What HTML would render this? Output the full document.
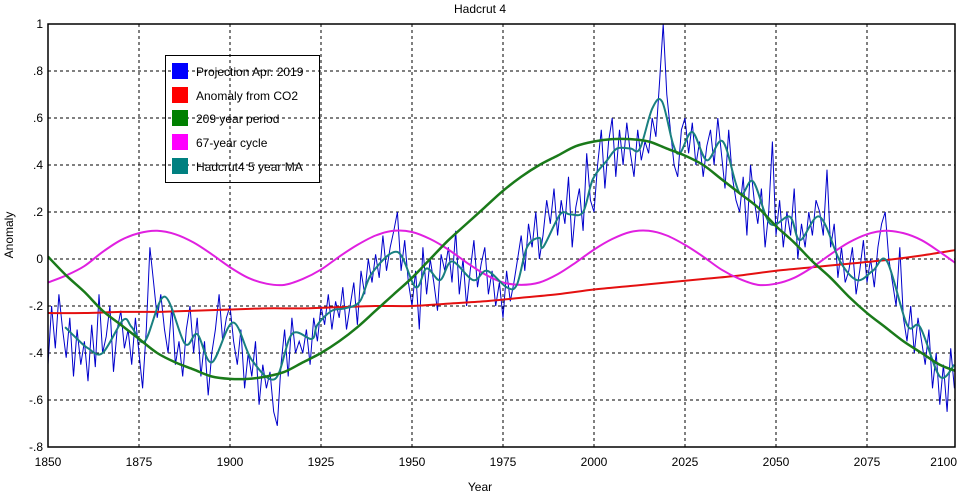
<!DOCTYPE html>
<html><head><meta charset="utf-8"><style>
body{margin:0;background:#fff;}
svg text{font-family:"Liberation Sans",Arial,sans-serif;font-size:12px;fill:#000;}
</style></head><body>
<svg id="chart" width="959" height="495" viewBox="0 0 959 495" xmlns="http://www.w3.org/2000/svg">
<rect width="959" height="495" fill="#fff"/>
<text x="480" y="13" text-anchor="middle">Hadcrut 4</text>
<text transform="translate(13,235) rotate(-90)" text-anchor="middle">Anomaly</text>
<text x="480" y="491" text-anchor="middle">Year</text>
<g id="grid"></g>
<g id="series"></g>
<rect x="48" y="24" width="907" height="423" fill="none" stroke="#000" stroke-width="1.5"/>
<g id="ticks"></g>
<g>
<rect x="165.5" y="55.5" width="154" height="127" fill="none" stroke="#000" stroke-width="1"/>
<g><rect x="172" y="63" width="16" height="16" fill="#0000ff"/><text x="196" y="76">Projection Apr. 2019</text></g>
<g><rect x="172" y="87" width="16" height="16" fill="#ff0000"/><text x="196" y="100">Anomaly from CO2</text></g>
<g><rect x="172" y="110" width="16" height="16" fill="#008000"/><text x="196" y="123">209 year period</text></g>
<g><rect x="172" y="134" width="16" height="16" fill="#ff00ff"/><text x="196" y="147">67-year cycle</text></g>
<g><rect x="172" y="158" width="16" height="16" fill="#008080"/><text x="196" y="171">Hadcrut4 5 year MA</text></g>
</g>
</svg>
<script>
const xTicks=[1850,1875,1900,1925,1950,1975,2000,2025,2050,2075,2100];
const yTicks=[1,0.8,0.6,0.4,0.2,0,-0.2,-0.4,-0.6,-0.8];
const yTickLabels=["1",".8",".6",".4",".2","0","-.2","-.4","-.6","-.8"];
const blueStart=1850;
const blueValues=[
-0.45,-0.20,-0.38,-0.15,-0.30,-0.42,-0.25,-0.50,-0.30,-0.45,
-0.35,-0.52,-0.28,-0.46,-0.15,-0.40,-0.33,-0.20,-0.48,-0.30,
-0.22,-0.38,-0.30,-0.45,-0.25,-0.40,-0.55,-0.30,0.05,-0.10,
-0.25,-0.15,-0.30,-0.40,-0.20,-0.45,-0.35,-0.50,-0.30,-0.20,
-0.40,-0.25,-0.50,-0.35,-0.58,-0.40,-0.30,-0.15,-0.35,-0.25,
-0.20,-0.35,-0.45,-0.30,-0.55,-0.40,-0.50,-0.35,-0.62,-0.45,
-0.55,-0.48,-0.65,-0.71,-0.45,-0.30,-0.50,-0.25,-0.40,-0.35,
-0.40,-0.30,-0.45,-0.25,-0.35,-0.20,-0.28,-0.15,-0.30,-0.18,
-0.25,-0.12,-0.30,-0.20,-0.10,-0.28,-0.05,-0.15,0.00,-0.10,
0.02,-0.08,0.10,-0.05,0.05,0.12,0.20,-0.05,0.08,-0.10,
-0.20,-0.05,-0.30,0.05,-0.15,0.00,-0.10,-0.22,0.02,-0.05,
0.05,-0.10,0.12,-0.15,0.00,-0.20,-0.05,0.08,-0.12,-0.02,
0.05,-0.15,-0.05,-0.20,-0.10,-0.25,-0.05,-0.18,-0.10,0.00,
0.10,-0.05,0.15,0.05,0.20,0.00,0.10,0.25,0.15,0.30,
0.10,0.25,0.15,0.35,0.05,0.22,0.30,0.12,0.45,0.25,
0.20,0.40,0.55,0.30,0.50,0.60,0.35,0.55,0.40,0.58,
0.45,0.35,0.55,0.42,0.50,0.45,0.60,0.52,0.75,1.00,
0.70,0.55,0.40,0.35,0.55,0.60,0.45,0.58,0.40,0.50,
0.35,0.48,0.55,0.40,0.60,0.45,0.30,0.55,0.35,0.25,
0.20,0.35,0.10,0.40,0.25,0.15,0.30,0.05,0.20,0.50,
0.10,0.25,0.05,0.20,0.10,0.30,0.00,0.15,0.05,0.20,
0.10,0.25,0.20,0.10,0.38,0.05,0.15,-0.08,0.05,-0.10,
-0.05,0.05,-0.15,-0.05,0.08,-0.10,0.00,-0.12,0.05,0.15,
0.20,0.00,-0.10,-0.20,0.05,-0.25,-0.35,-0.20,-0.40,-0.25,
-0.35,-0.45,-0.30,-0.55,-0.40,-0.62,-0.45,-0.65,-0.38,-0.55];
const maYears=[1854.7,1858,1861,1865,1870.6,1873,1876.6,1882,1887.6,1891,1895,1900.8,1906,1912.4,1917,1922.5,1924,1928,1931.6,1935.7,1939,1946,1951,1954,1957.7,1961,1966.8,1970.6,1976,1978.8,1981.6,1985,1986,1990.7,1993.4,1997,1999.7,2003.6,2006.3,2010,2012.6,2016,2018.7,2021.7,2023.6,2027,2031,2035.4,2040,2043.7,2048.4,2053.8,2056.6,2062,2067.6,2072.3,2076.6,2080.5,2086,2089.6,2095,2099];
const maValues=[-0.29,-0.34,-0.38,-0.40,-0.26,-0.29,-0.35,-0.16,-0.36,-0.32,-0.44,-0.27,-0.43,-0.51,-0.32,-0.34,-0.28,-0.22,-0.21,-0.18,-0.06,0.03,-0.12,-0.04,-0.09,-0.01,-0.09,-0.05,-0.12,-0.11,0.05,0.09,0.05,0.19,0.19,0.20,0.34,0.42,0.47,0.47,0.47,0.64,0.67,0.49,0.45,0.54,0.42,0.50,0.28,0.33,0.15,0.18,0.08,0.18,-0.01,-0.09,-0.05,-0.01,-0.28,-0.29,-0.50,-0.45];
const curveYears=[1850,1855,1860,1865,1870,1875,1880,1885,1890,1895,1900,1905,1910,1915,1920,1925,1930,1935,1940,1945,1950,1955,1960,1965,1970,1975,1980,1985,1990,1995,2000,2005,2010,2015,2020,2025,2030,2035,2040,2045,2050,2055,2060,2065,2070,2075,2080,2085,2090,2095,2100];
const period209=[0.01,-0.07,-0.14,-0.22,-0.28,-0.34,-0.40,-0.44,-0.47,-0.50,-0.51,-0.51,-0.50,-0.48,-0.44,-0.40,-0.35,-0.29,-0.22,-0.15,-0.08,0,0.08,0.15,0.22,0.29,0.35,0.40,0.44,0.48,0.50,0.51,0.51,0.50,0.47,0.44,0.40,0.34,0.28,0.22,0.14,0.07,-0.01,-0.08,-0.16,-0.23,-0.29,-0.35,-0.40,-0.45,-0.48];
const cycle67=[-0.10,-0.07,-0.03,0.03,0.08,0.11,0.12,0.105,0.07,0.02,-0.035,-0.08,-0.105,-0.11,-0.085,-0.045,0.01,0.06,0.10,0.12,0.115,0.085,0.04,-0.015,-0.065,-0.10,-0.11,-0.10,-0.065,-0.015,0.04,0.085,0.115,0.12,0.10,0.06,0.01,-0.045,-0.085,-0.11,-0.105,-0.08,-0.035,0.02,0.07,0.105,0.12,0.11,0.08,0.03,-0.025];
const co2Years=[1850,1860,1870,1880,1890,1900,1910,1920,1930,1940,1950,1960,1970,1980,1990,2000,2010,2020,2030,2040,2050,2060,2070,2080,2090,2100];
const co2Values=[-0.23,-0.23,-0.225,-0.225,-0.22,-0.215,-0.21,-0.21,-0.205,-0.20,-0.20,-0.19,-0.18,-0.165,-0.15,-0.13,-0.115,-0.10,-0.085,-0.07,-0.05,-0.035,-0.02,-0.005,0.015,0.04];

const L=48,R=955,T=24,B=447,X0=1850,X1=1850+(R-L)/3.64;
function xs(v){return L+(v-X0)/(X1-X0)*(R-L);}
function ys(v){return T+(1-v)/1.8*(B-T);}
const NS="http://www.w3.org/2000/svg";
function mk(tag,attrs,parent){const e=document.createElementNS(NS,tag);for(const k in attrs)e.setAttribute(k,attrs[k]);parent.appendChild(e);return e;}
const grid=document.getElementById('grid'),ticks=document.getElementById('ticks'),series=document.getElementById('series');
xTicks.forEach(t=>{let x=xs(t);
 if(x>L+1&&x<R-1){const g=mk('line',{x1:x,x2:x,y1:T,y2:B,stroke:'#000','stroke-dasharray':'3,3','stroke-width':1},grid);
 
 }
 let anchor='middle';
 if(x>R-15){x=957;anchor='end';}
 const tx=mk('text',{x:x,y:466,'text-anchor':anchor},ticks);tx.textContent=t;
 
 
});
yTicks.forEach((t,i)=>{const y=ys(t);
 if(y>T+1&&y<B-1){const g=mk('line',{x1:L,x2:R,y1:y,y2:y,stroke:'#000','stroke-dasharray':'3,3','stroke-width':1},grid);
 
 }
 const tx=mk('text',{x:43,y:y+4,'text-anchor':'end'},ticks);tx.textContent=yTickLabels[i];
 
 
});
function poly(xsArr,vals){return xsArr.map((yr,i)=>xs(yr).toFixed(1)+','+ys(vals[i]).toFixed(1)).join(' ');}
function smooth(xsArr,vals){const p=xsArr.map((yr,i)=>[xs(yr),ys(vals[i])]);let d='M'+p[0][0]+','+p[0][1];
 for(let i=0;i<p.length-1;i++){const p0=p[i-1]||p[i],p1=p[i],p2=p[i+1],p3=p[i+2]||p2;
 d+=' C'+(p1[0]+(p2[0]-p0[0])/6)+','+(p1[1]+(p2[1]-p0[1])/6)+' '+(p2[0]-(p3[0]-p1[0])/6)+','+(p2[1]-(p3[1]-p1[1])/6)+' '+p2[0]+','+p2[1];}
 return d;}
const defs=mk('defs',{},document.getElementById('chart'));
const cp=mk('clipPath',{id:'clip'},defs);mk('rect',{x:L,y:T,width:R-L,height:B-T},cp);
const blueYears=blueValues.map((v,i)=>blueStart+i);
const bl=mk('polyline',{points:poly(blueYears,blueValues),fill:'none',stroke:'#0000cc','stroke-width':1,'clip-path':'url(#clip)'},series);


const rd=mk('path',{d:smooth(co2Years,co2Values),fill:'none',stroke:'#e41010','stroke-width':2,'clip-path':'url(#clip)'},series);


const pk=mk('path',{d:smooth(curveYears,cycle67),fill:'none',stroke:'#e020e0','stroke-width':2,'clip-path':'url(#clip)'},series);


const tl=mk('path',{d:smooth(maYears,maValues),fill:'none',stroke:'#1a8080','stroke-width':2,'clip-path':'url(#clip)'},series);


const gr=mk('path',{d:smooth(curveYears,period209),fill:'none',stroke:'#1a7a1a','stroke-width':2.5,'clip-path':'url(#clip)'},series);


</script>
</body></html>
